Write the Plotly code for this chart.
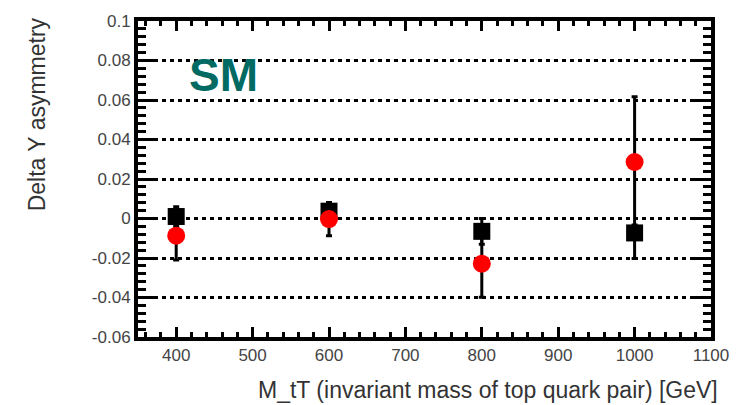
import plotly.graph_objects as go

# ---- data ----
mass = [400, 600, 800, 1000]
black_vals = [0.001, 0.0037, -0.0065, -0.0073]
black_err_up = [0.005, 0.003, 0.0065, 0.004]
black_err_down = [0.005, 0.003, 0.0065, 0.013]
red_vals = [-0.0087, -0.0003, -0.0229, 0.0286]
red_errs = [0.0123, 0.0084, 0.017, 0.033]

x_tickvals = [400, 500, 600, 700, 800, 900, 1000, 1100]
x_ticktext = ["400", "500", "600", "700", "800", "900", "1000", "1100"]
y_tickvals = [-0.06, -0.04, -0.02, 0, 0.02, 0.04, 0.06, 0.08, 0.1]
y_ticktext = ["-0.06", "-0.04", "-0.02", "0", "0.02", "0.04", "0.06", "0.08", "0.1"]

FONT = "Liberation Sans, Arial, sans-serif"

# plot area in pixels
L, R, T, B = 138, 719, 19, 337
PW, PH = R - L, B - T

fig = go.Figure()
fig.add_trace(go.Scatter(
    x=mass, y=black_vals, mode="markers",
    marker=dict(symbol="square", size=17, color="black", line=dict(width=0)),
    error_y=dict(type="data", symmetric=False, array=black_err_up,
                 arrayminus=black_err_down, visible=True, color="black",
                 thickness=3, width=3),
    showlegend=False,
))
fig.add_trace(go.Scatter(
    x=mass, y=red_vals, mode="markers",
    marker=dict(symbol="circle", size=18, color="red", line=dict(width=0)),
    error_y=dict(type="data", array=red_errs, visible=True, color="black",
                 thickness=3, width=3),
    showlegend=False,
))

fig.add_annotation(
    text="<b>SM</b>", x=(188 - L) / PW, xref="paper", xanchor="left",
    y=(B - 73.5) / PH, yref="paper", yanchor="middle",
    showarrow=False, font=dict(family=FONT, size=46, color="#006a63"),
)
fig.add_annotation(
    text="Delta Y asymmetry", textangle=-90,
    x=(35 - L) / PW, xref="paper", xanchor="center",
    y=(B - 112.5) / PH, yref="paper", yanchor="middle",
    showarrow=False, font=dict(family=FONT, size=23, color="#333333"),
)
fig.add_annotation(
    text="M_tT (invariant mass of top quark pair) [GeV]",
    x=(258 - L) / PW, xref="paper", xanchor="left",
    y=-(390 - B) / PH, yref="paper", yanchor="middle",
    showarrow=False, font=dict(family=FONT, size=23, color="#333333"),
)

axis_common = dict(
    showline=True, linecolor="black", linewidth=4, mirror="allticks",
    ticks="inside", tickcolor="black", tickwidth=3,
    tickfont=dict(family=FONT, size=17, color="#444444"),
    zeroline=False,
)
fig.update_xaxes(
    range=[350, 1100], tickvals=x_tickvals, ticktext=x_ticktext,
    ticklen=10, showgrid=False,
    minor=dict(dtick=20, tick0=0, ticks="inside", ticklen=5, tickwidth=3,
               tickcolor="black", showgrid=False),
    **axis_common,
)
fig.update_yaxes(
    range=[-0.06, 0.1], tickvals=y_tickvals, ticktext=y_ticktext,
    ticklen=17, showgrid=True, gridcolor="black", gridwidth=3, griddash="4px,4px",
    minor=dict(dtick=0.004, tick0=0, ticks="inside", ticklen=8, tickwidth=3,
               tickcolor="black", showgrid=False),
    **axis_common,
)
fig.update_layout(
    width=741, height=405,
    margin=dict(l=L, r=741 - R, t=T, b=405 - B),
    paper_bgcolor="white", plot_bgcolor="white",
    font=dict(family=FONT),
)
fig.write_html("out.html")
